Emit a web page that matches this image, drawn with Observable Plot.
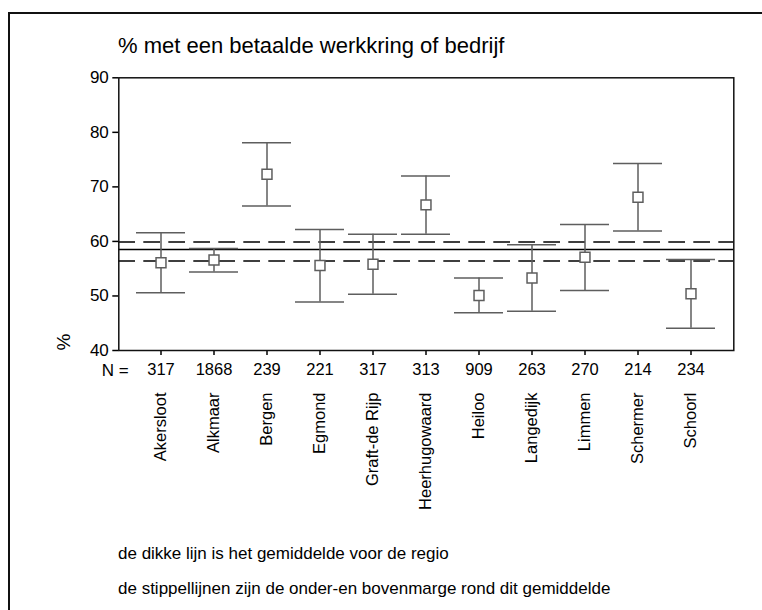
<!DOCTYPE html>
<html><head><meta charset="utf-8">
<script src="https://cdn.jsdelivr.net/npm/d3@7"></script>
<script src="https://cdn.jsdelivr.net/npm/@observablehq/plot@0.6"></script>
<style>
html,body{margin:0;padding:0;background:#fff;overflow:hidden;}
#wrap{position:relative;width:762px;height:610px;font-family:"Liberation Sans",Arial,sans-serif;color:#000;overflow:hidden;background:#fff;}
#chart{position:absolute;left:0;top:0;}
#border{position:absolute;left:8px;top:12px;width:800px;height:700px;border-left:2px solid #111;border-top:2px solid #111;box-sizing:border-box;}
#title{position:absolute;left:118px;top:34.7px;font-size:22px;line-height:22px;white-space:nowrap;}
.note{position:absolute;left:118px;font-size:17px;line-height:17px;white-space:nowrap;}
</style>
</head><body>
<div id="wrap">
  <div id="chart"></div>
  <div id="border"></div>
  <div id="title">% met een betaalde werkkring of bedrijf</div>
  <div class="note" style="top:544.6px">de dikke lijn is het gemiddelde voor de regio</div>
  <div class="note" style="top:579.6px">de stippellijnen zijn de onder-en bovenmarge rond dit gemiddelde</div>
</div>
<script>
const categories = ["Akersloot","Alkmaar","Bergen","Egmond","Graft-de Rijp","Heerhugowaard","Heiloo","Langedijk","Limmen","Schermer","Schoorl"];
const nValues = [317,1868,239,221,317,313,909,263,270,214,234];
const means = [56.1,56.6,72.3,55.6,55.8,66.7,50.1,53.3,57.1,68.1,50.4];
const lower = [50.6,54.4,66.5,48.9,50.3,61.3,46.9,47.2,51.0,61.9,44.1];
const upper = [61.6,58.7,78.1,62.2,61.3,72.0,53.3,59.4,63.1,74.3,56.7];
const regionMean = 58.5;
const regionLower = 56.4;
const regionUpper = 59.9;
const yTicks = [40,50,60,70,80,90];

const data = categories.map((c,i)=>({cat:c, n:nValues[i], mean:means[i], lo:lower[i], hi:upper[i]}));
const nByCat = new Map(data.map(d=>[d.cat,d.n]));
const barColor = "#5e5e5e";
const font = '"Liberation Sans", Arial, sans-serif';

const chart = Plot.plot({
  width:762, height:520,
  marginTop:77.3, marginBottom:170, marginLeft:118.3, marginRight:28.7,
  style:{background:"transparent", fontFamily:font, color:"#000", overflow:"visible"},
  x:{type:"band", domain:categories, paddingInner:0.07, paddingOuter:0.264, axis:null},
  y:{domain:[40,90], axis:null},
  marks:[
    Plot.axisY({ticks:yTicks, tickSize:6, tickPadding:4, fontSize:17, label:null, strokeWidth:1.5}),
    Plot.axisX({tickFormat:d=>String(nByCat.get(d)), tickSize:5, tickPadding:8, fontSize:16.5, label:null, strokeWidth:1.5}),
    Plot.text(data, {x:"cat", text:"cat", frameAnchor:"bottom", dy:42, rotate:-90, textAnchor:"end", lineAnchor:"middle", fontSize:16.5, fill:"#000"}),
    Plot.text(["N ="], {frameAnchor:"bottom-left", dx:10, dy:13, textAnchor:"end", lineAnchor:"top", fontSize:17, fill:"#000"}),
    Plot.text(["%"], {frameAnchor:"bottom-left", dx:-49, rotate:-90, textAnchor:"start", lineAnchor:"bottom", fontSize:19, fill:"#000"}),
    Plot.ruleY([regionLower, regionUpper], {stroke:"#000", strokeWidth:1.5, strokeDasharray:"16.7,8.3"}),
    Plot.ruleY([regionMean], {stroke:"#000", strokeWidth:1.5}),
    Plot.ruleX(data, {x:"cat", y1:"lo", y2:"hi", stroke:barColor, strokeWidth:1.5}),
    Plot.tickY(data, {x:"cat", y:"hi", stroke:barColor, strokeWidth:1.5}),
    Plot.tickY(data, {x:"cat", y:"lo", stroke:barColor, strokeWidth:1.5}),
    Plot.dot(data, {x:"cat", y:"mean", symbol:"square", r:5.6, stroke:barColor, fill:"white", strokeWidth:1.5}),
    Plot.frame({stroke:"#111", strokeWidth:1.5})
  ]
});
document.getElementById("chart").appendChild(chart);
</script>
</body></html>
